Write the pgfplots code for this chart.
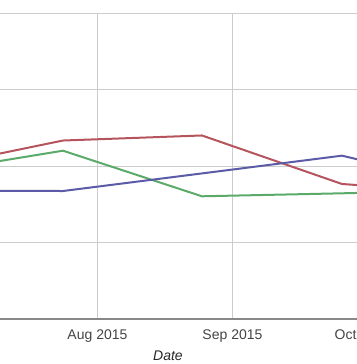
\documentclass[border=0pt]{standalone}
\usepackage{pgfplots}
\pgfplotsset{compat=1.18}
\usepackage{fontspec}
\setmainfont{Liberation Sans}
\definecolor{cred}{HTML}{B5545C}
\definecolor{cgreen}{HTML}{5AAA6A}
\definecolor{cblue}{HTML}{5B5BA8}
\definecolor{cgrid}{HTML}{CCCCCC}
\definecolor{caxis}{HTML}{888888}
\definecolor{ctext}{HTML}{444444}
\begin{document}
\begin{tikzpicture}
\begin{axis}[
  at={(-81.1pt,45pt)}, anchor=south west,
  x=4.355pt, y=76.5pt,
  xmin=-10, xmax=104.38, ymin=0, ymax=4,
  axis x line=bottom, axis y line=left,
  x axis line style={-, draw=caxis, line width=1.2pt},
  y axis line style={-, draw=none},
  xtick={31,62,92},
  xticklabels={Aug 2015,Sep 2015,Oct 2015},
  ytick={0,1,2,3,4}, yticklabels={},
  major tick length=0pt,
  xmajorgrids, ymajorgrids,
  grid style={cgrid, line width=0.9pt},
  xticklabel style={font=\fontsize{14}{16}\selectfont, text=ctext, yshift=-7pt},
  xlabel={\itshape Date},
  xlabel style={font=\fontsize{14}{16}\selectfont, text=black!85, yshift=-2pt},
  clip=false,
  every axis plot/.append style={line width=2pt, no markers},
]
\addplot[cred] coordinates {(-8.95,1.957) (23.08,2.333) (55.0,2.399) (87.14,1.765) (119.17,1.634)};
\addplot[cgreen] coordinates {(-8.95,1.902) (23.08,2.200) (55.0,1.604) (87.14,1.643) (119.17,1.686)};
\addplot[cblue] coordinates {(-8.95,1.680) (23.08,1.673) (55.0,1.903) (87.14,2.135) (119.17,1.705)};
\end{axis}
\pgfresetboundingbox
\useasboundingbox (0,0) rectangle (356pt,364pt);
\end{tikzpicture}
\end{document}
